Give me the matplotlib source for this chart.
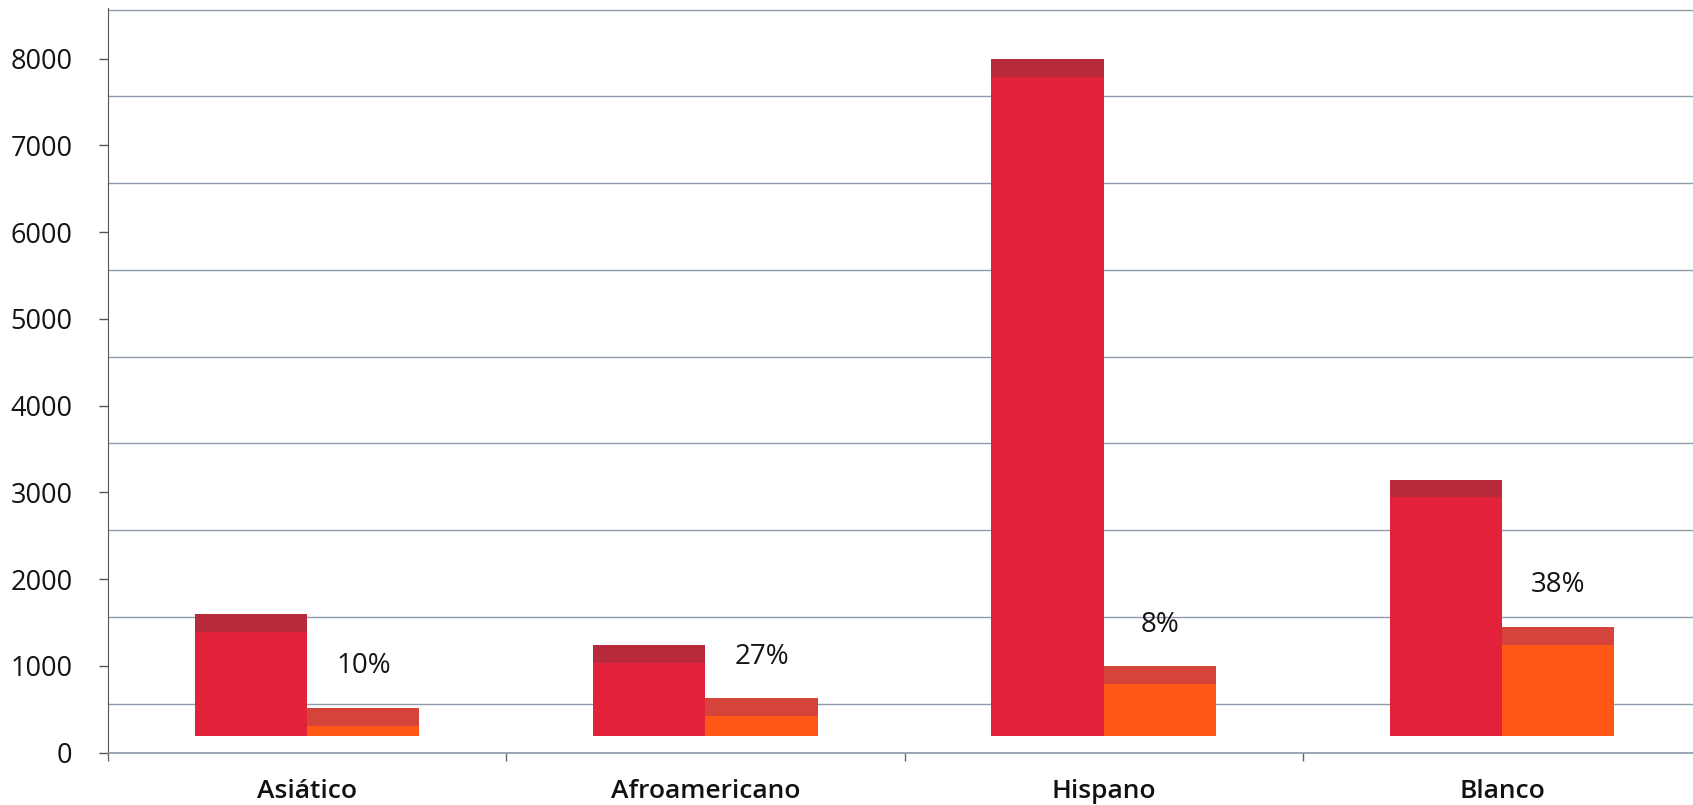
import matplotlib.pyplot as plt
import numpy as np

# values
categories = ['Asiático', 'Afroamericano', 'Hispano', 'Blanco']
total = [1200, 840, 7600, 2750]
subgroup = [120, 230, 600, 1050]
pct_labels = ['10%', '27%', '8%', '38%']
yticks = [0, 1000, 2000, 3000, 4000, 5000, 6000, 7000, 8000]

# fake 3d look of the original excel chart (in data units)
FLOOR = 192      # bars stand a bit behind the front edge
TOP = 205        # visible top face of each column
WALL = 565       # gridlines are drawn on the back wall

plt.rcParams['font.family'] = ['Open Sans', 'DejaVu Sans']

fig = plt.figure(figsize=(16.93, 8.05), dpi=100)
ax = fig.add_axes([0.0638, 0.065, 0.9410, 0.9246])

x = np.arange(len(categories)) + 0.5
w = 0.282

ax.bar(x - w / 2, total, width=w, bottom=FLOOR, color='#e1223a', zorder=3)
ax.bar(x - w / 2, TOP, width=w, bottom=np.array(total) + FLOOR, color='#b82a3a', zorder=3)
ax.bar(x + w / 2, subgroup, width=w, bottom=FLOOR, color='#ff5816', zorder=3)
ax.bar(x + w / 2, TOP, width=w, bottom=np.array(subgroup) + FLOOR, color='#d5443b', zorder=3)

for xi, s, lab in zip(x, subgroup, pct_labels):
    ax.annotate(lab, (xi + w / 2, s + FLOOR + TOP), xytext=(0, 30), textcoords='offset points',
                ha='center', va='center', fontsize=20, color='#141414')

ax.set_xlim(0, 4)
ax.set_ylim(0, 8580)

ax.set_yticks(yticks)
ax.set_yticklabels([str(t) for t in yticks], fontsize=19.5, color='#141414')
ax.set_yticks([t + WALL for t in yticks], minor=True)
ax.tick_params(axis='y', which='major', length=6.5, width=1, color='#555555', pad=19)
ax.tick_params(axis='y', which='minor', length=0)
ax.grid(axis='y', which='minor', color='#8f9bab', linewidth=1)
ax.set_axisbelow(True)

ax.set_xticks([0, 1, 2, 3, 4])
ax.set_xticklabels([])
ax.set_xticks(x, minor=True)
ax.set_xticklabels(categories, minor=True, fontsize=19, color='#111111', fontweight='semibold')
ax.tick_params(axis='x', which='major', length=6, width=1, color='#666666')
ax.tick_params(axis='x', which='minor', length=0, pad=19)

for side in ['top', 'right']:
    ax.spines[side].set_visible(False)
ax.spines['left'].set_color('#555555')
ax.spines['bottom'].set_color('#8a96a6')
ax.spines['bottom'].set_linewidth(1.2)

fig.savefig('out.png', dpi=100, facecolor='white')
